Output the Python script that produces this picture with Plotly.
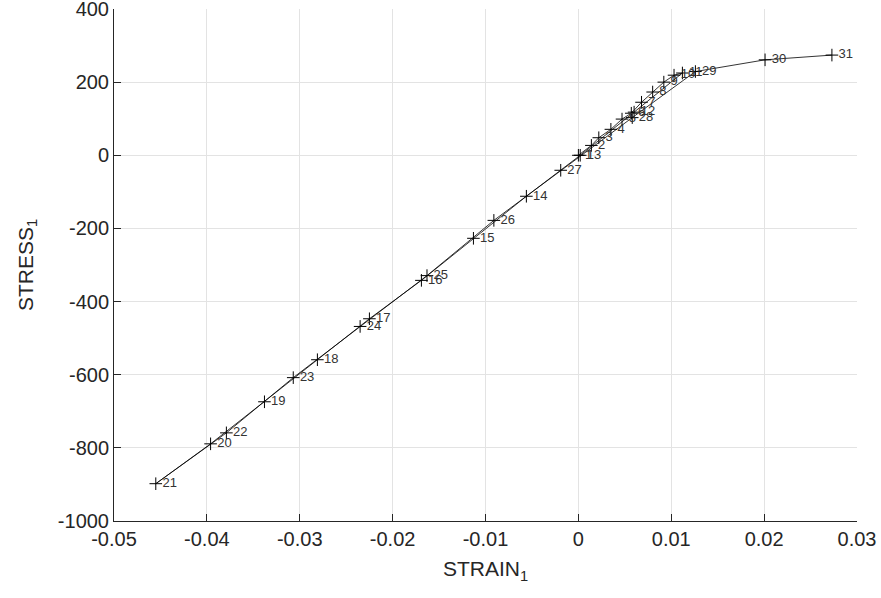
import plotly.graph_objects as go

# Data (strain, stress) in load-step order 1..31
step_labels = [str(i) for i in range(1, 32)]
strain = [0.0, 0.0014, 0.0022, 0.0035, 0.0047, 0.0057, 0.0068, 0.0080, 0.0092, 0.0103, 0.0112,
          0.0060, 0.0002, -0.0056, -0.0113, -0.0169, -0.0225, -0.0281, -0.0338, -0.0396, -0.0455,
          -0.0379, -0.0307, -0.0235, -0.0163, -0.0091, -0.0019, 0.0058, 0.0126, 0.0201, 0.0273]
stress = [0, 27, 48, 71, 99, 115, 145, 173, 200, 219, 225,
          118, 0, -112, -227, -342, -447, -559, -674, -789, -898,
          -759, -608, -468, -329, -178, -41, 103, 229, 261, 274]

x_ticks = [-0.05, -0.04, -0.03, -0.02, -0.01, 0, 0.01, 0.02, 0.03]
x_tick_labels = ["-0.05", "-0.04", "-0.03", "-0.02", "-0.01", "0", "0.01", "0.02", "0.03"]
y_ticks = [-1000, -800, -600, -400, -200, 0, 200, 400]
y_tick_labels = ["-1000", "-800", "-600", "-400", "-200", "0", "200", "400"]

FONT = "Liberation Sans, Arial, sans-serif"
fig = go.Figure()
fig.add_trace(go.Scatter(
    x=strain, y=stress, text=step_labels,
    mode="lines+markers+text",
    line=dict(color="black", width=0.8),
    marker=dict(symbol="cross-thin", size=9, line=dict(color="black", width=1), color="black"),
    textposition="middle right",
    textfont=dict(family=FONT, size=13, color="#333333"),
    showlegend=False, cliponaxis=False,
))

axis_font = dict(family=FONT, size=20, color="#262626")
common = dict(
    tickfont=axis_font, showgrid=True, gridcolor="#e3e3e3", gridwidth=1,
    zeroline=False, showline=True, linecolor="#262626", linewidth=1,
    ticks="inside", ticklen=7, tickcolor="#262626", ticklabeloverflow="allow",
    automargin=False,
)
fig.update_layout(
    width=881, height=598,
    margin=dict(l=114, r=24, t=9, b=77),
    paper_bgcolor="white", plot_bgcolor="white",
    font=dict(family=FONT, color="#262626"),
    xaxis=dict(
        range=[-0.05, 0.03], tickvals=x_ticks, ticktext=x_tick_labels,
        title=dict(text="STRAIN<sub>1</sub>", font=dict(size=21, color="#262626"), standoff=12),
        **common,
    ),
    yaxis=dict(
        range=[-1000, 400], tickvals=y_ticks, ticktext=y_tick_labels,
        title=dict(text="STRESS<sub>1</sub>", font=dict(size=21, color="#262626"), standoff=18),
        **common,
    ),
)

fig.write_html("out.html")
